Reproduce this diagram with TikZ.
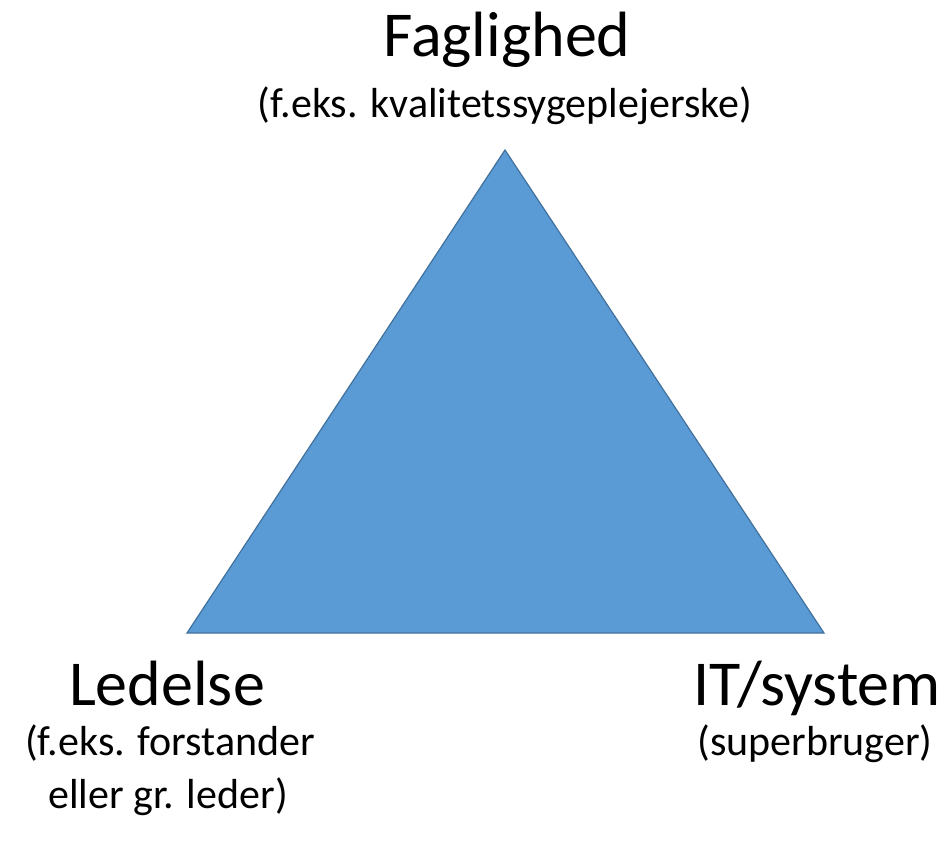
\documentclass[tikz,border=0pt]{standalone}
\usepackage{fontspec}
\setmainfont{Carlito}
\definecolor{trifill}{HTML}{5B9BD5}
\definecolor{triedge}{HTML}{41719C}
\begin{document}
\begin{tikzpicture}[x=1pt,y=-1pt,
  big/.style={font=\fontsize{64}{70}\selectfont, anchor=base, inner sep=0pt},
  small/.style={font=\fontsize{42}{48}\selectfont, anchor=base, inner sep=0pt}]
\useasboundingbox (0,0) rectangle (948,842);
\coordinate (top) at (505,150);
\coordinate (bl) at (187,633);
\coordinate (br) at (824,633);
\draw[triedge, fill=trifill, line width=1.2pt, line join=miter] (top) -- (bl) -- (br) -- cycle;
\node[big] (fag) at (507,57) {Faglighed};
\node[small] (fagsub) at (505,118) {(f.eks. kvalitetssygeplejerske)};
\node[big] (led) at (167,705) {Ledelse};
\node[small] (ledsub1) at (170,755) {(f.eks. forstander};
\node[small] (ledsub2) at (168,808) {eller gr. leder)};
\node[big] (it) at (817,705) {IT/system};
\node[small] (itsub) at (815,755) {(superbruger)};
\end{tikzpicture}
\end{document}
